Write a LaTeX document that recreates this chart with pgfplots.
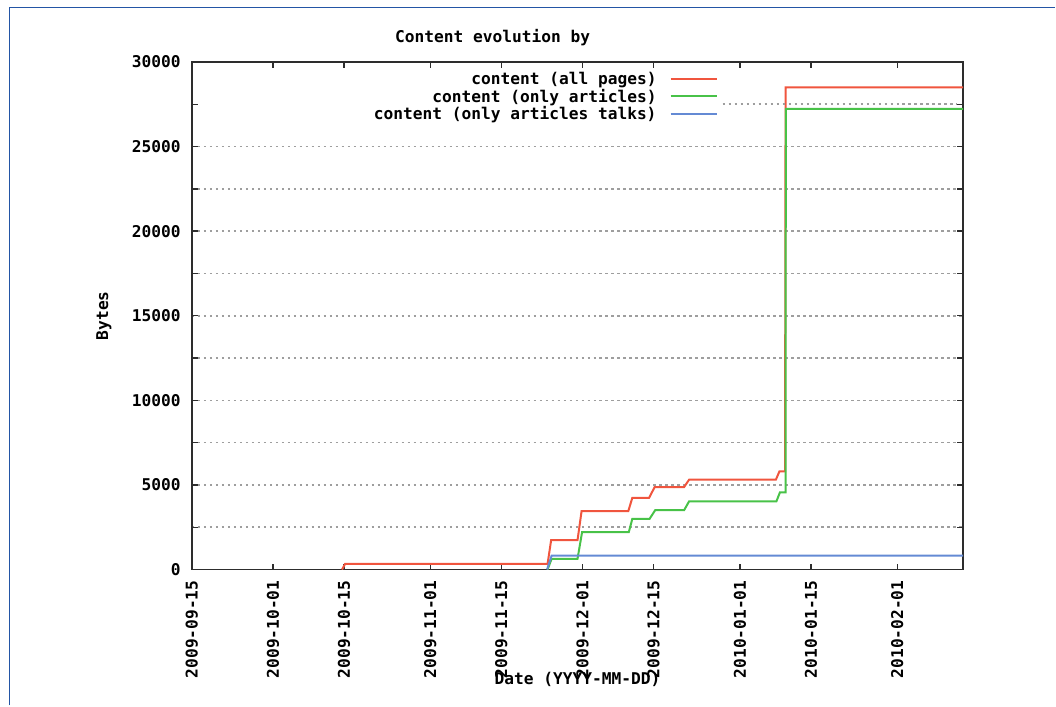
\documentclass[border=0pt]{standalone}
\usepackage{fontspec}
\setmainfont{DejaVu Sans Mono}
\usepackage{pgfplots}
\pgfplotsset{compat=1.18}
\definecolor{gpred}{RGB}{240,85,62}
\definecolor{gpgreen}{RGB}{72,194,72}
\definecolor{gpblue}{RGB}{100,138,212}
\definecolor{frameblue}{RGB}{35,85,165}
\definecolor{axgray}{RGB}{45,45,45}
\tikzset{gpgrid/.style={color=black!38, line width=1.6pt, dash pattern=on 2.4pt off 3.6pt}}
\begin{document}
\begin{tikzpicture}[x=1pt,y=1pt,font=\fontsize{16.2}{19}\selectfont\bfseries]
\path (0,0) rectangle (1056,706);
\draw[frameblue, line width=1.8pt] (9.5,0) -- (9.5,698.5) -- (1056,698.5);
\begin{axis}[
  at={(192pt,136pt)}, anchor=south west, scale only axis,
  width=772pt, height=508pt,
  xmin=0, xmax=152, ymin=0, ymax=30000,
  xtick={0,16,30,47,61,77,91,108,122,139},
  xticklabels={2009-09-15,2009-10-01,2009-10-15,2009-11-01,2009-11-15,2009-12-01,2009-12-15,2010-01-01,2010-01-15,2010-02-01},
  ytick={0,5000,10000,15000,20000,25000,30000},
  yticklabels={0,5000,10000,15000,20000,25000,30000},
  scaled y ticks=false, scaled x ticks=false,
  minor ytick={2500,7500,12500,17500,22500},
  extra y ticks={27500}, extra y tick labels={}, extra y tick style={grid=none},
  ymajorgrids, yminorgrids,
  major grid style={gpgrid}, minor grid style={gpgrid},
  major tick length=6pt, minor tick length=6pt,
  tick style={line width=1.4pt, axgray},
  axis line style={line width=1.4pt, axgray},
  /pgf/number format/assume math mode=true,
  xticklabel style={rotate=90, anchor=east, inner xsep=11pt, inner ysep=0pt},
  yticklabel style={anchor=east, inner xsep=11pt, inner ysep=0pt},
  title={Content evolution by},
  title style={at={(axis description cs:0.39,1.037)}, anchor=center},
  xlabel={Date (YYYY-MM-DD)},
  xlabel style={at={(axis description cs:0.5,-0.2165)}, anchor=center},
  ylabel={Bytes},
  ylabel style={at={(axis description cs:-0.114,0.5)}, anchor=center},
  legend cell align=right,
  legend plot pos=right,
  legend image code/.code={\draw[#1] (0pt,0pt) -- (47pt,0pt);},
  legend style={at={(axis description cs:0.683,0.982)}, anchor=north east, draw=none, fill=none, inner sep=0pt, nodes={inner sep=1pt}, row sep=1pt, column sep=12pt},
]
\addplot[gpred, line width=2pt] coordinates {
(29.6,0) (30.2,330) (70.1,330) (70.8,1730) (76.0,1730) (76.8,3445) (86.0,3445) (86.8,4235) (90.1,4235) (91.2,4870) (97.0,4870) (98.0,5315) (115.1,5315) (115.8,5806) (116.9,5806) (117.0,28490) (152,28490)
};
\addlegendentry{content (all pages)}
\addplot[gpgreen, line width=2pt] coordinates {
(70.1,0) (70.9,632) (76.0,632) (76.9,2203) (86.1,2203) (86.8,2995) (90.2,2995) (91.3,3503) (97.0,3503) (98.0,4034) (115.2,4034) (115.9,4566) (117.0,4566) (117.05,27230) (152,27230)
};
\addlegendentry{content (only articles)}
\addplot[gpblue, line width=2pt] coordinates {
(70.0,0) (70.9,827) (152,827)
};
\addlegendentry{content (only articles talks)}
\draw[gpgrid] (axis cs:104.6,27500) -- (axis cs:150.8,27500);
\end{axis}
\end{tikzpicture}
\end{document}
